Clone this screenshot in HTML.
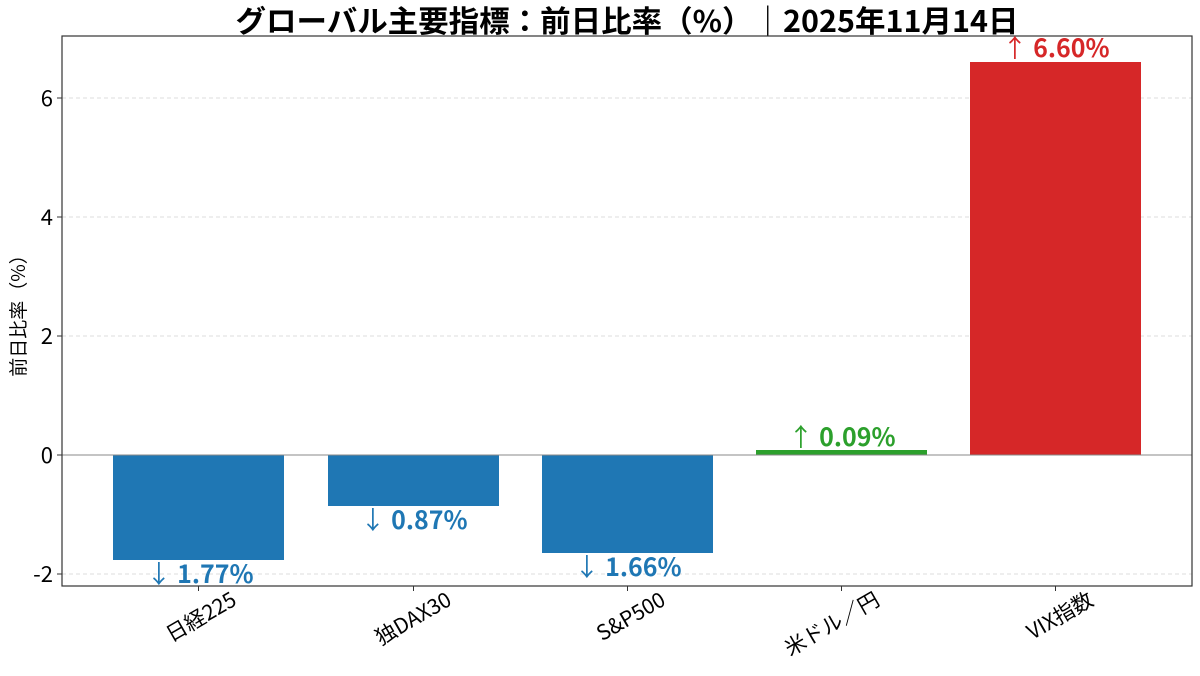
<!DOCTYPE html>
<html><head><meta charset="utf-8"><style>
html,body{margin:0;padding:0;background:#fff;}
svg text{font-family:"Noto Sans CJK JP","Liberation Sans",sans-serif;}
</style></head><body>
<svg width="1200" height="671" viewBox="0 0 1200 671" xmlns="http://www.w3.org/2000/svg">
<rect width="1200" height="671" fill="#fff"/>
<text x="627" y="32" text-anchor="middle" font-size="30" font-weight="bold" fill="#000" textLength="783" lengthAdjust="spacingAndGlyphs">グローバル主要指標：前日比率（%）｜2025年11月14日</text>
<g stroke="#ddd" stroke-dasharray="4,3" stroke-width="1">
<line x1="62" x2="1192" y1="98" y2="98"/>
<line x1="62" x2="1192" y1="217" y2="217"/>
<line x1="62" x2="1192" y1="336" y2="336"/>
<line x1="62" x2="1192" y1="574" y2="574"/>
</g>
<rect x="113" y="455" width="171" height="105" fill="#1f77b4"/>
<rect x="328" y="455" width="171" height="51" fill="#1f77b4"/>
<rect x="542" y="455" width="171" height="98" fill="#1f77b4"/>
<rect x="756" y="450" width="171" height="5" fill="#2ca02c"/>
<rect x="970" y="62" width="171" height="393" fill="#d62728"/>
<line x1="62" x2="1192" y1="455" y2="455" stroke="#888" stroke-width="1"/>
<rect x="62" y="36" width="1130" height="550" fill="none" stroke="#333" stroke-width="1.2"/>
<g stroke="#333" stroke-width="1">
<line x1="57" x2="62" y1="98" y2="98"/><line x1="57" x2="62" y1="217" y2="217"/>
<line x1="57" x2="62" y1="336" y2="336"/><line x1="57" x2="62" y1="455" y2="455"/>
<line x1="57" x2="62" y1="574" y2="574"/>
<line x1="198.5" x2="198.5" y1="586" y2="591"/><line x1="413.5" x2="413.5" y1="586" y2="591"/>
<line x1="627.5" x2="627.5" y1="586" y2="591"/><line x1="841.5" x2="841.5" y1="586" y2="591"/>
<line x1="1055.5" x2="1055.5" y1="586" y2="591"/>
</g>
<g font-size="22" fill="#000" text-anchor="end">
<text x="53" y="106">6</text><text x="53" y="225">4</text><text x="53" y="344">2</text>
<text x="53" y="463">0</text><text x="53" y="582">-2</text>
</g>
<text transform="translate(25,311) rotate(-90)" text-anchor="middle" font-size="19" fill="#000">前日比率（%）</text>
<g font-size="21" fill="#000" text-anchor="end">
<text transform="translate(238,604) rotate(-30)">日経225</text>
<text transform="translate(453,604) rotate(-30)">独DAX30</text>
<text transform="translate(667,604) rotate(-30)">S&amp;P500</text>
<text transform="translate(881,604) rotate(-30)">米ドル／円</text>
<text transform="translate(1095,604) rotate(-30)">VIX指数</text>
</g>
<g font-size="25" font-weight="bold" text-anchor="middle">
<text x="200" y="583" fill="#1f77b4"><tspan font-weight="normal">↓</tspan> 1.77%</text>
<text x="414" y="529" fill="#1f77b4"><tspan font-weight="normal">↓</tspan> 0.87%</text>
<text x="628" y="576" fill="#1f77b4"><tspan font-weight="normal">↓</tspan> 1.66%</text>
<text x="842" y="446" fill="#2ca02c"><tspan font-weight="normal">↑</tspan> 0.09%</text>
<text x="1056" y="57" fill="#d62728"><tspan font-weight="normal">↑</tspan> 6.60%</text>
</g>
</svg>
</body></html>
